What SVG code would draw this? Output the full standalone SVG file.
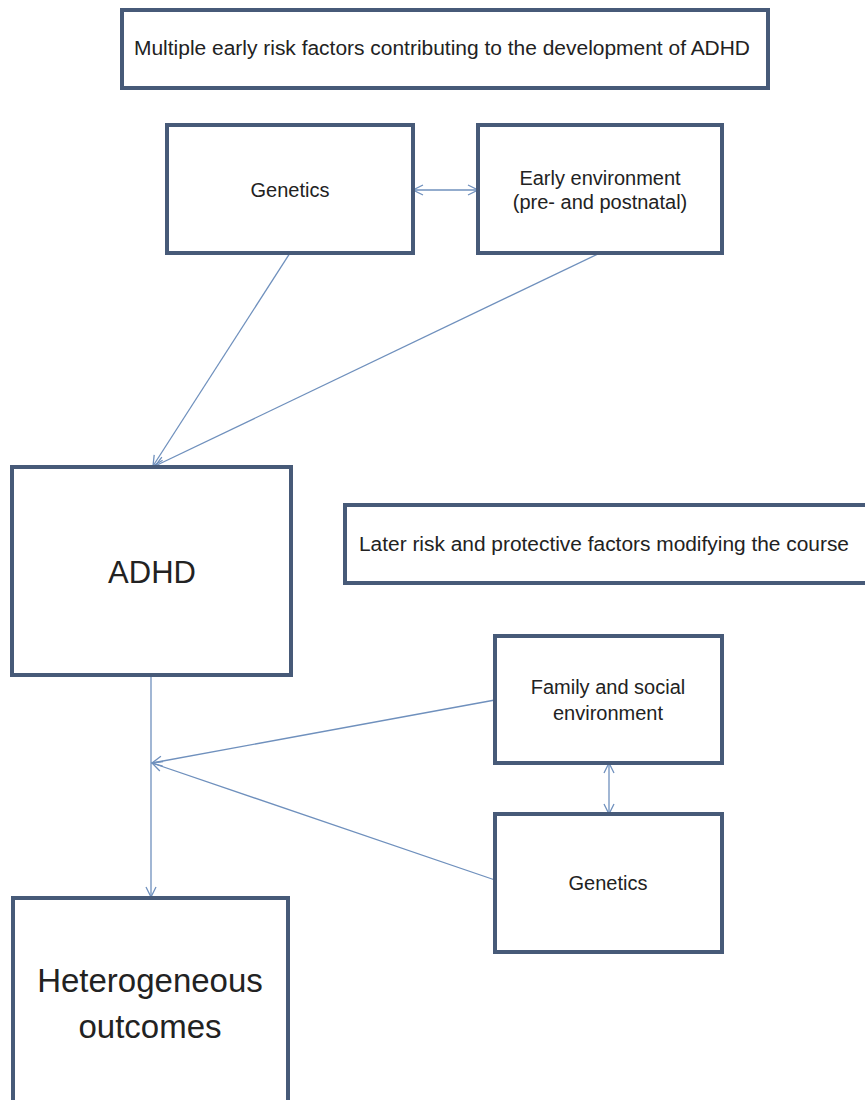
<svg xmlns="http://www.w3.org/2000/svg" width="865" height="1100" viewBox="0 0 865 1100">
<style>
.box{fill:#ffffff;stroke:#475a78;stroke-width:4}
.t{font-family:"Liberation Sans",Arial,sans-serif;fill:#222;text-anchor:middle;dominant-baseline:central}
.s{font-size:20px}
.big{font-size:33px}
.c{fill:none;stroke:#6f90bd;stroke-width:1.3}
</style>
<defs>
<marker id="ah" viewBox="0 0 12 12" refX="11" refY="6" markerWidth="12" markerHeight="12" markerUnits="userSpaceOnUse" orient="auto-start-reverse">
<path d="M1,1 L11,6 L1,11" fill="none" stroke="#6f90bd" stroke-width="1.3"/>
</marker>
</defs>
<rect width="865" height="1100" fill="#ffffff"/>
<g id="connectors">
<line class="c" x1="290" y1="253" x2="153" y2="466" marker-end="url(#ah)"/>
<line class="c" x1="600" y1="253" x2="155" y2="466" marker-end="url(#ah)"/>
<line class="c" x1="413" y1="190" x2="478" y2="190" marker-start="url(#ah)" marker-end="url(#ah)"/>
<line class="c" x1="151" y1="675" x2="151" y2="897" marker-end="url(#ah)"/>
<line class="c" x1="495" y1="700" x2="152" y2="763" marker-end="url(#ah)"/>
<line class="c" x1="495" y1="880" x2="152" y2="763" marker-end="url(#ah)"/>
<line class="c" x1="609" y1="763" x2="609" y2="814" marker-start="url(#ah)" marker-end="url(#ah)"/>
</g>
<g id="title-early">
<rect class="box" x="122" y="10" width="646" height="78"/>
<text class="t s" x="442" y="48" textLength="616" lengthAdjust="spacingAndGlyphs">Multiple early risk factors contributing to the development of ADHD</text>
</g>
<g id="genetics-early">
<rect class="box" x="167" y="125" width="246" height="128"/>
<text class="t s" x="290" y="190">Genetics</text>
</g>
<g id="early-environment">
<rect class="box" x="478" y="125" width="244" height="128"/>
<text class="t s" x="600" y="178">Early environment</text>
<text class="t s" x="600" y="202">(pre- and postnatal)</text>
</g>
<g id="adhd">
<rect class="box" x="12" y="467" width="279" height="208"/>
<text class="t" style="font-size:31px" x="152" y="572">ADHD</text>
</g>
<g id="title-later">
<rect class="box" x="345" y="505" width="540" height="78"/>
<text class="t s" x="604" y="544" textLength="490" lengthAdjust="spacingAndGlyphs">Later risk and protective factors modifying the course</text>
</g>
<g id="family-social">
<rect class="box" x="495" y="636" width="227" height="127"/>
<text class="t s" x="608" y="687">Family and social</text>
<text class="t s" x="608" y="713">environment</text>
</g>
<g id="genetics-later">
<rect class="box" x="495" y="814" width="227" height="138"/>
<text class="t s" x="608" y="883">Genetics</text>
</g>
<g id="outcomes">
<rect class="box" x="13" y="898" width="275" height="220"/>
<text class="t big" x="150" y="980">Heterogeneous</text>
<text class="t big" x="150" y="1026">outcomes</text>
</g>
</svg>
